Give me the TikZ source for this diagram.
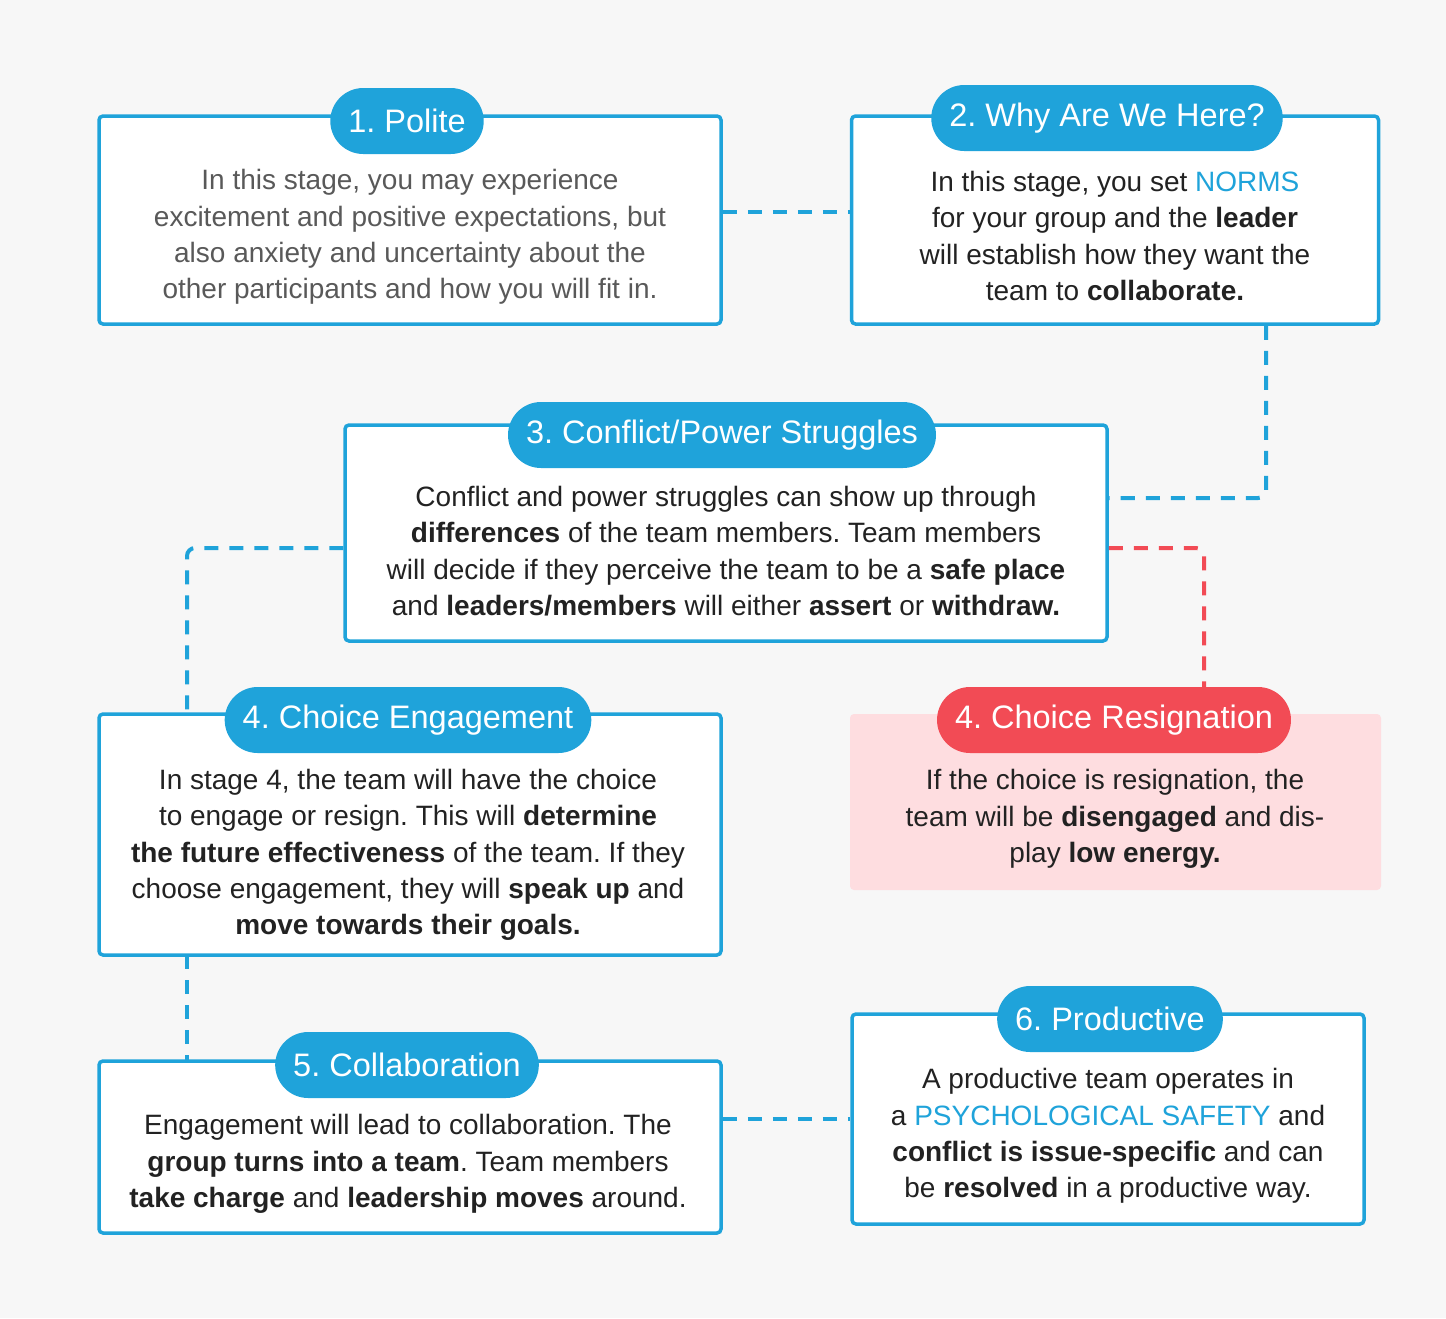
\documentclass[tikz,border=0pt]{standalone}
\usepackage{fontspec}
\setmainfont{Liberation Sans}
\usetikzlibrary{calc}
\definecolor{bl}{HTML}{1FA3DA}
\definecolor{rd}{HTML}{F24B55}
\definecolor{pk}{HTML}{FEDDE0}
\definecolor{bg}{HTML}{F7F7F7}
\definecolor{tx}{HTML}{222222}
\frenchspacing
\begin{document}
\begin{tikzpicture}[x=1pt,y=-1pt,
  box/.style={draw=bl,line width=3.5pt,fill=white,rounded corners=4pt},
  pill/.style={fill=bl,text=white,rounded corners=33pt,minimum height=66pt,inner xsep=18pt,font=\fontsize{32.5}{36}\selectfont},
  body/.style={align=center,text=tx,font=\fontsize{28}{36.3}\selectfont},
  conn/.style={draw=bl,line width=4pt,dash pattern=on 14pt off 11pt,rounded corners=8pt}]
\fill[bg] (0,0) rectangle (1446,1318);
\node[box,minimum width=622pt,minimum height=208pt] (b1) at (410,220) {};
\node[box,minimum width=527pt,minimum height=208pt] (b2) at (1115,220) {};
\node[box,minimum width=762pt,minimum height=216pt] (b3) at (726,533) {};
\node[box,minimum width=622pt,minimum height=241pt] (b4e) at (410,834.5) {};
\node[fill=pk,rounded corners=4pt,minimum width=531pt,minimum height=176pt] (b4r) at (1115.5,802) {};
\node[box,minimum width=622pt,minimum height=172pt] (b5) at (410,1147) {};
\node[box,minimum width=512pt,minimum height=210pt] (b6) at (1108,1119) {};
\coordinate (c4) at (187,714);
\coordinate (c4r) at (1204,690);
\coordinate (c4b) at (187,955);
\coordinate (c5) at (187,1061);
\draw[conn] ($(b1.east)+(0,-8)$) -- ($(b2.west)+(0,-8)$);
\draw[conn] ($(b2.south)+(151,0)$) |- ($(b3.east)+(0,-35)$);
\draw[conn] ($(b3.west)+(0,15)$) -| (c4);
\draw[conn,draw=rd] ($(b3.east)+(0,15)$) -| (c4r);
\draw[conn] (c4b) -- (c5);
\draw[conn] (b5.east|-b6.west) -- (b6.west);
\node[pill] (p1) at (407,121) {1. Polite};
\node[pill] (p2) at (1107,118) {2. Why Are We Here?};
\node[pill] (p3) at (722,435) {3. Conflict/Power Struggles};
\node[pill] (p4e) at (408,720) {4. Choice Engagement};
\node[pill,fill=rd] (p4r) at (1114,720) {4. Choice Resignation};
\node[pill] (p5) at (407,1065) {5. Collaboration};
\node[pill] (p6) at (1110,1019) {6. Productive};
\node[body,text=black!65] (t1) at (410,237) {In this stage, you may experience\\excitement and positive expectations, but\\also anxiety and uncertainty about the\\other participants and how you will fit in.};
\node[body] (t2) at (1115,236) {In this stage, you set \textcolor{bl}{NORMS}\\for your group and the \textbf{leader}\\will establish how they want the\\team to \textbf{collaborate.}};
\node[body] (t3) at (726,551) {Conflict and power struggles can show up through\\\textbf{differences} of the team members. Team members\\will decide if they perceive the team to be a \textbf{safe place}\\and \textbf{leaders/members} will either \textbf{assert} or \textbf{withdraw.}};
\node[body] (t4e) at (408,855) {In stage 4, the team will have the choice\\to engage or resign. This will \textbf{determine}\\\textbf{the future effectiveness} of the team. If they\\choose engagement, they will \textbf{speak up} and\\\textbf{move towards their goals.}};
\node[body] (t4r) at (1115,819) {If the choice is resignation, the\\team will be \textbf{disengaged} and dis-\\play \textbf{low energy.}};
\node[body] (t5) at (408,1164) {Engagement will lead to collaboration. The\\\textbf{group turns into a team}. Team members\\\textbf{take charge} and \textbf{leadership moves} around.};
\node[body] (t6) at (1108,1136) {A productive team operates in\\a \textcolor{bl}{PSYCHOLOGICAL SAFETY} and\\\textbf{conflict is issue-specific} and can\\be \textbf{resolved} in a productive way.};
\end{tikzpicture}
\end{document}
